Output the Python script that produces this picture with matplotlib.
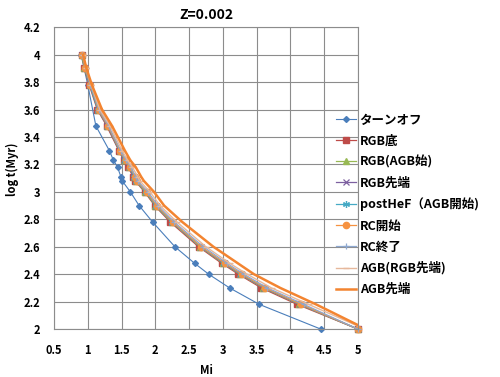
#!/usr/bin/env python3
"""log t vs initial mass for each evolutionary phase, Z=0.002."""
import matplotlib
matplotlib.use("Agg")
import matplotlib.pyplot as plt

OUT_PNG = "out.png"

# log t (Myr) grid shared by the phase series
LOGT = [4.0, 3.9, 3.78, 3.6, 3.48, 3.3, 3.23, 3.18, 3.11, 3.08,
        3.0, 2.9, 2.78, 2.6, 2.48, 2.4, 2.3, 2.18, 2.0]

# turnoff has no points at 3.9 and 3.6
LOGT_TO = [4.0, 3.78, 3.48, 3.3, 3.23, 3.18, 3.11, 3.08,
           3.0, 2.9, 2.78, 2.6, 2.48, 2.4, 2.3, 2.18, 2.0]
M_TURNOFF = [0.90, 1.0, 1.12, 1.32, 1.38, 1.44, 1.49, 1.51,
             1.63, 1.76, 1.96, 2.29, 2.58, 2.79, 3.10, 3.54, 4.45]

M_RGB_BOTTOM = [0.91, 0.95, 1.02, 1.14, 1.28, 1.46, 1.53, 1.60, 1.67, 1.70,
                1.84, 1.99, 2.22, 2.64, 2.98, 3.23, 3.57, 4.10, 5.00]
M_RGB_AGBSTART = [0.91, 0.95, 1.03, 1.15, 1.29, 1.47, 1.54, 1.61, 1.68, 1.71,
                  1.85, 2.00, 2.24, 2.66, 3.00, 3.25, 3.60, 4.13, 5.00]
M_RGB_TIP = [0.92, 0.96, 1.03, 1.15, 1.29, 1.47, 1.54, 1.61, 1.68, 1.72,
             1.86, 2.01, 2.25, 2.67, 3.01, 3.26, 3.61, 4.14, 5.00]
M_POSTHEF = [0.92, 0.96, 1.03, 1.15, 1.30, 1.47, 1.55, 1.62, 1.69, 1.72,
             1.86, 2.01, 2.25, 2.67, 3.02, 3.27, 3.62, 4.15, 5.00]
M_RC_START = [0.92, 0.96, 1.04, 1.16, 1.30, 1.48, 1.56, 1.63, 1.70, 1.73,
              1.87, 2.02, 2.26, 2.68, 3.03, 3.28, 3.63, 4.16, 5.00]
M_RC_END = [0.92, 0.97, 1.04, 1.17, 1.31, 1.49, 1.57, 1.64, 1.71, 1.74,
            1.89, 2.04, 2.28, 2.71, 3.06, 3.31, 3.66, 4.20, 5.00]
M_AGB_RGBTIP = [0.93, 0.98, 1.05, 1.18, 1.33, 1.51, 1.59, 1.66, 1.74, 1.77,
                1.92, 2.07, 2.32, 2.75, 3.10, 3.36, 3.72, 4.27, 5.10]
M_AGB_TIP = [0.93, 0.98, 1.06, 1.21, 1.36, 1.55, 1.63, 1.71, 1.79, 1.83,
             1.98, 2.13, 2.40, 2.86, 3.22, 3.46, 3.85, 4.38, 5.12]

plt.rcParams["font.family"] = ["Noto Sans CJK JP", "DejaVu Sans"]
plt.rcParams["font.weight"] = "bold"


def main():
    fig = plt.figure(figsize=(5.0, 3.77), dpi=100)
    ax = fig.add_axes([0.108, 0.127, 0.608, 0.801])

    ax.plot(M_TURNOFF, LOGT_TO, color="#4A7EBB", lw=0.8, marker="D", ms=3,
            label="ターンオフ", clip_on=False)
    ax.plot(M_RGB_BOTTOM, LOGT, color="#BE4B48", lw=0.9, marker="s", ms=5,
            label="RGB底", clip_on=False)
    ax.plot(M_RGB_AGBSTART, LOGT, color="#98B954", lw=0.9, marker="^", ms=4.5,
            label="RGB(AGB始)", clip_on=False)
    ax.plot(M_RGB_TIP, LOGT, color="#7D60A0", lw=0.9, marker="x", ms=4,
            mew=0.9, label="RGB先端", clip_on=False)
    ax.plot(M_POSTHEF, LOGT, color="#46AAC5", lw=0.9, marker=(6, 2, 0), ms=5,
            mew=0.9, label="postHeF（AGB開始)", clip_on=False)
    ax.plot(M_RC_START, LOGT, color="#F69240", lw=0.9, marker="o", ms=4.5,
            label="RC開始", clip_on=False)
    ax.plot(M_RC_END, LOGT, color="#8EA8D0", lw=0.9, marker="+", ms=5,
            mew=0.9, label="RC終了", clip_on=False)
    ax.plot(M_AGB_RGBTIP, LOGT, color="#E6B89C", lw=1.0, marker="_", ms=4,
            label="AGB(RGB先端)")
    ax.plot(M_AGB_TIP, LOGT, color="#F38430", lw=1.8, label="AGB先端")

    ax.set_xlim(0.5, 5)
    ax.set_ylim(2, 4.2)
    ax.set_xticks([0.5, 1, 1.5, 2, 2.5, 3, 3.5, 4, 4.5, 5])
    ax.set_xticklabels(["0.5", "1", "1.5", "2", "2.5", "3", "3.5", "4", "4.5", "5"])
    ax.set_yticks([2, 2.2, 2.4, 2.6, 2.8, 3, 3.2, 3.4, 3.6, 3.8, 4, 4.2])
    ax.set_yticklabels(["2", "2.2", "2.4", "2.6", "2.8", "3", "3.2", "3.4",
                        "3.6", "3.8", "4", "4.2"])
    ax.tick_params(axis="y", length=0, labelsize=8, pad=10)
    ax.tick_params(axis="x", length=0, labelsize=8, pad=11)
    ax.grid(True, color="#8C8C8C", lw=0.8)
    ax.set_axisbelow(True)
    for sp in ax.spines.values():
        sp.set_color("#8C8C8C")
        sp.set_linewidth(0.8)

    ax.set_xlabel("Mi", fontsize=8, fontweight="bold", labelpad=5)
    ax.set_ylabel("log t(Myr)", fontsize=8, fontweight="bold")
    ax.yaxis.set_label_coords(-0.115, 0.53)
    ax.set_title("Z=0.002", fontsize=10, fontweight="bold", pad=6)

    fig.legend(loc="upper left", bbox_to_anchor=(0.662, 0.712), frameon=False,
               fontsize=9, handlelength=1.6, handletextpad=0.3,
               labelspacing=0.64, borderaxespad=0)

    fig.savefig(OUT_PNG, dpi=100)
    print(f"[OK] Saved: {OUT_PNG}")


if __name__ == "__main__":
    main()
